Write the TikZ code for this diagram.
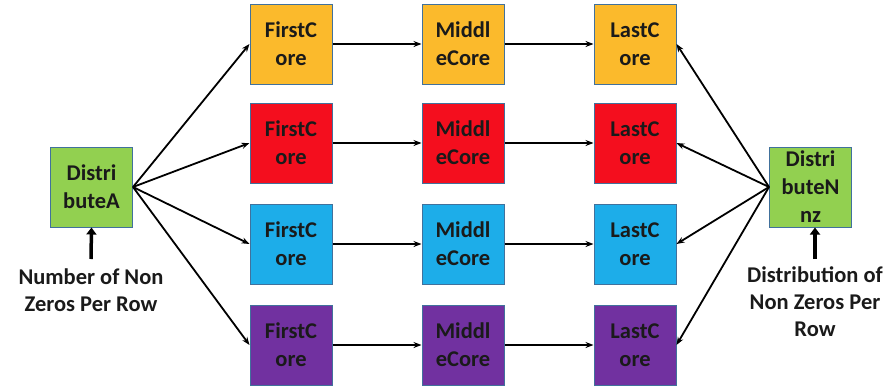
\documentclass[tikz,border=0pt]{standalone}
\usepackage{fontspec}
\setmainfont{Carlito}
\usetikzlibrary{arrows.meta}
\definecolor{bord}{HTML}{41719C}
\definecolor{corange}{HTML}{FBBA2C}
\definecolor{cred}{HTML}{F40E1E}
\definecolor{ccyan}{HTML}{1DADE9}
\definecolor{cpurple}{HTML}{7131A0}
\definecolor{cgreen}{HTML}{92D050}
\definecolor{ctext}{HTML}{1A1A1A}
\tikzset{
  box/.style={draw=bord, line width=1pt, minimum width=82pt, minimum height=80pt, inner sep=0pt, align=center, text=ctext, font=\bfseries\fontsize{22.5}{28}\selectfont},
  conn/.style={line width=1.8pt, -{Stealth[length=8pt,width=6pt]}},
  upar/.style={line width=3.5pt, -{Triangle[length=7pt,width=10pt]}},
  lbl/.style={align=center, inner sep=0pt, text=ctext, font=\bfseries\fontsize{22.5}{27}\selectfont}
}
\begin{document}
\begin{tikzpicture}[x=1pt,y=-1pt]
\useasboundingbox (0,0) rectangle (894,386);
\node[box, fill=cgreen] (da) at (91.5,187) {Distri\\buteA};
\node[box, fill=cgreen] (dn) at (810.5,187) {Distri\\buteN\\nz};
\foreach \r/\y/\c in {1/44/corange, 2/143/cred, 3/244/ccyan, 4/345/cpurple}{
  \node[box, fill=\c] (f\r) at (291,\y) {FirstC\\ore};
  \node[box, fill=\c] (m\r) at (463,\y) {Middl\\eCore};
  \node[box, fill=\c] (l\r) at (635,\y) {LastC\\ore};
  \draw[conn] (f\r) -- (m\r);
  \draw[conn] (m\r) -- (l\r);
  \draw[conn] (da.east) -- (f\r.west);
  \draw[conn] (dn.west) -- (l\r.east);
}
\node[lbl] (ta) at (91,290) {Number of Non\\Zeros Per Row};
\node[lbl] (tn) at (815,302) {Distribution of\\Non Zeros Per\\Row};
\coordinate (ta0) at (91,259);
\coordinate (tn0) at (815,259);
\draw[upar] (ta0) -- (da.south);
\draw[upar] (tn0) -- (tn0 |- dn.south);
\end{tikzpicture}
\end{document}
